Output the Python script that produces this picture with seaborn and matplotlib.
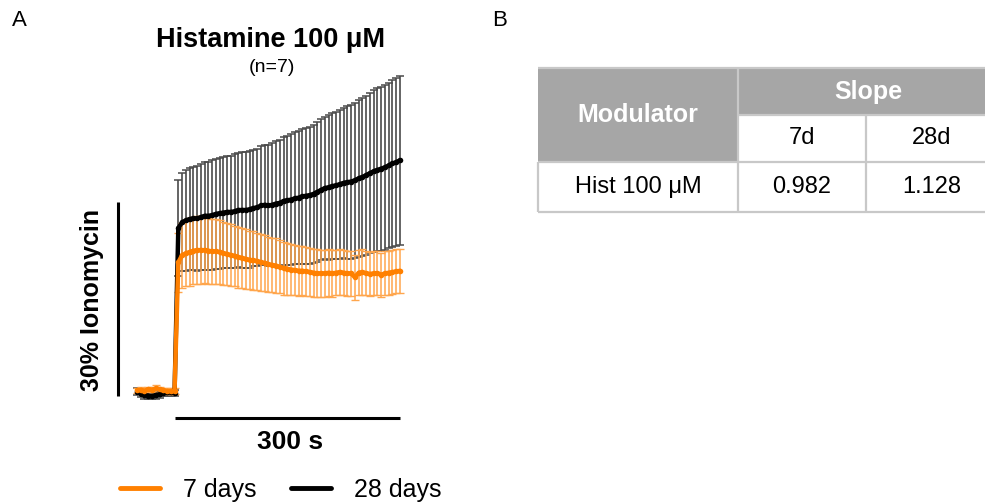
import numpy as np
import pandas as pd
import matplotlib
matplotlib.use('Agg')
import matplotlib.pyplot as plt
import seaborn as sns
from matplotlib.lines import Line2D
from matplotlib.patches import Rectangle

sns.set_style('white')
plt.rcParams['font.family'] = ['Liberation Sans', 'DejaVu Sans']
plt.rcParams['text.color'] = 'black'

NARANJA = '#FF8000'; NARANJA_EB = '#FFA64D'; NEGRO = '#000000'; GRIS_EB = '#4A4A4A'
GRIS_TAB = '#A6A6A6'; BORDE = '#C8C8C8'

# ── datos: tiempo (s) respecto al estímulo, % ionomicina ─────────────────────
tiempo = list(range(-50, 305, 5))
media_28d = [0.2, -0.1, -0.3, -0.4, -0.5, -0.3, -0.2, 0.0, 0.1, 0.1, 0.0,
             25.5, 26.4, 26.7, 26.9, 27.0, 27.0, 27.2, 27.4, 27.4, 27.5,
             27.7, 27.8, 27.9, 28.0, 28.0, 28.1, 28.3, 28.3, 28.3, 28.4,
             28.6, 28.7, 29.0, 29.1, 29.0, 29.1, 29.3, 29.4, 29.7, 29.8,
             29.9, 30.1, 30.2, 30.4, 30.5, 30.6, 30.8, 31.1, 31.4, 31.7,
             31.8, 32.0, 32.1, 32.3, 32.5, 32.6, 32.7, 32.9, 33.2, 33.4,
             33.7, 34.0, 34.3, 34.5, 34.7, 34.9, 35.2, 35.5, 35.7, 36.0]
sem_28d = [0.5, 0.5, 0.6, 0.5, 0.5, 0.6, 0.5, 0.5, 0.5, 0.5, 0.5,
           7.4, 7.6, 7.8, 7.9, 8.0, 8.1, 8.2, 8.3, 8.4, 8.5,
           8.5, 8.6, 8.6, 8.7, 8.7, 8.8, 8.8, 8.9, 8.9, 9.0,
           9.0, 9.1, 9.2, 9.3, 9.4, 9.5, 9.6, 9.8, 9.9, 10.0,
           10.1, 10.2, 10.3, 10.4, 10.5, 10.6, 10.7, 10.8, 10.9, 11.0,
           11.2, 11.3, 11.4, 11.5, 11.6, 11.8, 11.9, 12.0, 12.1, 12.2,
           12.3, 12.4, 12.5, 12.6, 12.7, 12.8, 12.8, 12.9, 13.0, 13.1]
media_7d = [0.4, 0.5, 0.3, 0.6, 0.5, 0.7, 0.6, 0.4, 0.3, 0.3, 0.3,
            20.2, 21.3, 21.6, 21.8, 22.0, 22.1, 22.1, 22.1, 22.0, 21.9,
            21.9, 21.8, 21.6, 21.5, 21.3, 21.2, 21.0, 20.9, 20.7, 20.6,
            20.5, 20.4, 20.2, 20.1, 19.9, 19.8, 19.7, 19.5, 19.3, 19.2,
            19.1, 19.0, 18.9, 18.9, 18.8, 18.7, 18.6, 18.5, 18.5, 18.5,
            18.6, 18.5, 18.6, 18.7, 18.6, 18.5, 18.5, 17.9, 18.6, 18.7,
            18.5, 18.4, 18.5, 18.5, 18.3, 18.5, 18.6, 18.7, 18.8, 18.9]
sem_7d = [0.4, 0.4, 0.5, 0.4, 0.4, 0.5, 0.4, 0.4, 0.4, 0.4, 0.4,
          4.6, 5.0, 5.1, 5.2, 5.2, 5.2, 5.2, 5.1, 5.1, 5.0,
          5.0, 4.9, 4.9, 4.8, 4.8, 4.7, 4.7, 4.6, 4.6, 4.5,
          4.5, 4.4, 4.4, 4.3, 4.3, 4.2, 4.2, 4.1, 4.1, 4.0,
          4.0, 3.9, 3.9, 3.8, 3.8, 3.7, 3.7, 3.7, 3.6, 3.6,
          3.6, 3.6, 3.5, 3.5, 3.5, 3.5, 3.5, 3.5, 3.5, 3.5,
          3.4, 3.4, 3.4, 3.4, 3.4, 3.4, 3.4, 3.4, 3.4, 3.4]

grupos = ['7 days', '28 days']
tabla_cab = ['Modulator', 'Slope', '7d', '28d']
tabla_fila = ['Hist 100 \u03bcM', '0.982', '1.128']

df = pd.concat([
    pd.DataFrame({'t': tiempo, 'v': media_28d, 'g': '28 days'}),
    pd.DataFrame({'t': tiempo, 'v': media_7d, 'g': '7 days'}),
])

W, H = 985, 504
fig = plt.figure(figsize=(W / 100, H / 100), dpi=100)

# ── capa de anotaciones en píxeles ───────────────────────────────────────────
ov = fig.add_axes([0, 0, 1, 1]); ov.set_xlim(0, W); ov.set_ylim(H, 0); ov.axis('off')

# ── panel A ──────────────────────────────────────────────────────────────────
ax = fig.add_axes([100 / W, 1 - 430 / H, 320 / W, 370 / H])
ax.errorbar(tiempo, media_28d, yerr=sem_28d, fmt='none', ecolor=GRIS_EB,
            elinewidth=1.2, capsize=3, capthick=1.1, zorder=1)
ax.errorbar(tiempo, media_7d, yerr=sem_7d, fmt='none', ecolor=NARANJA_EB,
            elinewidth=1.1, capsize=3, capthick=1.0, zorder=2)
sns.lineplot(data=df, x='t', y='v', hue='g', hue_order=['28 days', '7 days'],
             palette={'28 days': NEGRO, '7 days': NARANJA}, linewidth=3.2,
             marker='o', markersize=4, markeredgewidth=0, legend=False,
             sort=False, ax=ax, zorder=3)
ax.set_xlim(-99.2, 326.6); ax.set_ylim(-5.72, 51.5)
ax.axis('off')

# barras de escala
ax.plot([-75.3, -75.3], [-0.5, 29.5], color=NEGRO, lw=2.2, solid_capstyle='butt', clip_on=False)
ax.plot([0, 300], [-3.9, -3.9], color=NEGRO, lw=2.2, solid_capstyle='butt', clip_on=False)

ov.text(290, 442, '300 s', ha='center', va='center', fontsize=19, fontweight='bold')
ov.text(92, 300, '30% Ionomycin', ha='center', va='center', rotation=90,
        fontsize=18, fontweight='bold')
ov.text(271, 40, 'Histamine 100 \u03bcM', ha='center', va='center', fontsize=19.5, fontweight='bold')
ov.text(272, 67, '(n=7)', ha='center', va='center', fontsize=14)
ov.text(12, 20, 'A', ha='left', va='center', fontsize=16)
ov.text(492, 20, 'B', ha='left', va='center', fontsize=16)

handles = [Line2D([], [], color=NARANJA, lw=3.5), Line2D([], [], color=NEGRO, lw=3.5)]
fig.legend(handles, grupos, ncol=2, frameon=False, loc='center left',
           bbox_to_anchor=(120 / W, 1 - 490 / H), fontsize=18, handlelength=1.6,
           handletextpad=0.92, columnspacing=1.36, borderpad=0, borderaxespad=0)

# ── panel B: tabla ───────────────────────────────────────────────────────────
x0, x1, x2, x3 = 538, 738, 866, 998
y0, y1, y2, y3 = 68, 115, 162, 212
ov.add_patch(Rectangle((x0, y0), x3 - x0, y2 - y0, color=GRIS_TAB, lw=0))
ov.add_patch(Rectangle((x1, y1), x3 - x1, y2 - y1, facecolor='white', edgecolor='none'))
for xs, ys in [([x0, x3], [y0, y0]), ([x1, x3], [y1, y1]), ([x0, x3], [y2, y2]),
               ([x0, x3], [y3, y3]), ([x1, x1], [y0, y3]), ([x2, x2], [y1, y3]),
               ([x0, x0], [y2, y3])]:
    ov.plot(xs, ys, color=BORDE, lw=1.6, solid_capstyle='butt')
ov.text((x0 + x1) / 2, (y0 + y2) / 2, tabla_cab[0], ha='center', va='center',
        fontsize=18, fontweight='bold', color='white')
ov.text((x1 + x3) / 2, (y0 + y1) / 2, tabla_cab[1], ha='center', va='center',
        fontsize=18, fontweight='bold', color='white')
ov.text((x1 + x2) / 2, (y1 + y2) / 2, tabla_cab[2], ha='center', va='center', fontsize=17)
ov.text((x2 + x3) / 2, (y1 + y2) / 2, tabla_cab[3], ha='center', va='center', fontsize=17)
for (xa, xb), txt in zip([(x0, x1), (x1, x2), (x2, x3)], tabla_fila):
    ov.text((xa + xb) / 2, (y2 + y3) / 2, txt, ha='center', va='center', fontsize=17)

plt.savefig('out.png', dpi=100, facecolor='white')
plt.close()
